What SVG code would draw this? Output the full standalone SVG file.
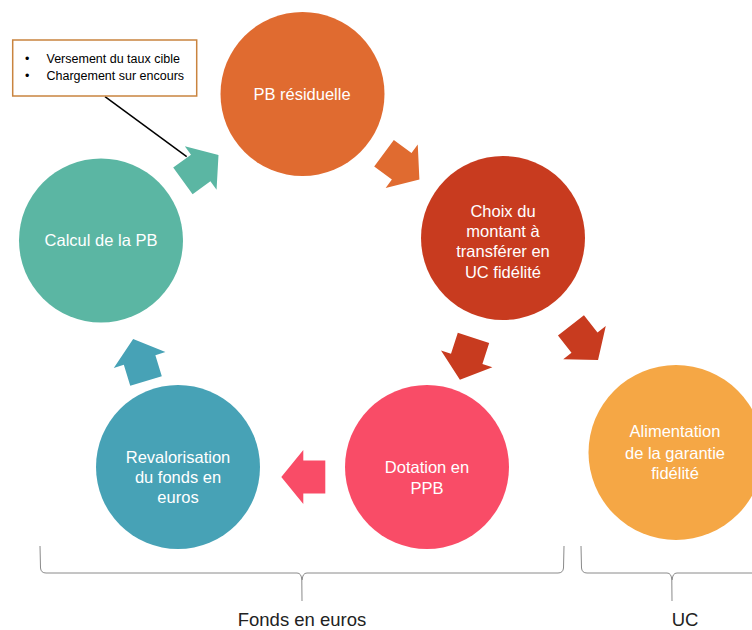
<svg xmlns="http://www.w3.org/2000/svg" xmlns:xlink="http://www.w3.org/1999/xlink" width="752" height="630" viewBox="0 0 752 630">
<defs>
<style>
.lbl{font-family:"Liberation Sans",Arial,sans-serif;font-size:16.5px;fill:#ffffff;text-anchor:middle}
.note{font-family:"Liberation Sans",Arial,sans-serif;font-size:12.5px;fill:#000000}
.cap{font-family:"Liberation Sans",Arial,sans-serif;font-size:18.5px;fill:#222222;text-anchor:middle}
.brace{fill:none;stroke:#8a8a8a;stroke-width:1}
</style>
<polygon id="arr" points="-22,-16.5 0,-16.5 0,-27 22,0 0,27 0,16.5 -22,16.5"/>
</defs>
<rect width="752" height="630" fill="#ffffff"/>

<g id="connectors">
<use xlink:href="#arr" href="#arr" fill="#5BB6A3" transform="translate(200.7,168) rotate(-36)"/>
<use xlink:href="#arr" href="#arr" fill="#E06B30" transform="translate(401.7,166.3) rotate(36.5)"/>
<use xlink:href="#arr" href="#arr" fill="#C83B1F" transform="translate(584.5,342.7) rotate(52)"/>
<use xlink:href="#arr" href="#arr" fill="#C83B1F" transform="translate(466.7,358.8) rotate(108)"/>
<use xlink:href="#arr" href="#arr" fill="#F94C67" transform="translate(303.3,477) rotate(180)"/>
<use xlink:href="#arr" href="#arr" fill="#47A2B6" transform="translate(139.6,360) rotate(-107)"/>
<line x1="105" y1="96.7" x2="186.7" y2="156.7" stroke="#000000" stroke-width="1.5"/>
</g>

<g id="pb-residuelle">
<circle cx="302.5" cy="94" r="82" fill="#E06B30"/>
<text class="lbl" x="302" y="100">PB résiduelle</text>
</g>

<g id="choix-montant">
<circle cx="503" cy="238" r="82" fill="#C83B1F"/>
<text class="lbl" x="503" y="217">Choix du</text>
<text class="lbl" x="503" y="236.5">montant à</text>
<text class="lbl" x="503" y="256.5">transférer en</text>
<text class="lbl" x="503" y="277.5">UC fidélité</text>
</g>

<g id="alimentation">
<circle cx="676" cy="452.5" r="87.5" fill="#F5A745"/>
<text class="lbl" x="675" y="437">Alimentation</text>
<text class="lbl" x="675" y="458.5">de la garantie</text>
<text class="lbl" x="675" y="479">fidélité</text>
</g>

<g id="dotation">
<circle cx="427" cy="467" r="82" fill="#F94C67"/>
<text class="lbl" x="427" y="473">Dotation en</text>
<text class="lbl" x="427" y="494">PPB</text>
</g>

<g id="revalorisation">
<circle cx="178" cy="467" r="82" fill="#47A2B6"/>
<text class="lbl" x="178" y="463">Revalorisation</text>
<text class="lbl" x="178" y="483">du fonds en</text>
<text class="lbl" x="178" y="503">euros</text>
</g>

<g id="calcul-pb">
<circle cx="101" cy="240.5" r="82" fill="#5BB6A3"/>
<text class="lbl" x="101" y="246">Calcul de la PB</text>
</g>

<g id="callout">
<rect x="12.7" y="40" width="184" height="56" fill="#ffffff" stroke="#C9843F" stroke-width="1.5"/>
<text class="note" x="25" y="63">•</text>
<text class="note" x="46.5" y="63">Versement du taux cible</text>
<text class="note" x="25" y="80">•</text>
<text class="note" x="46.5" y="80">Chargement sur encours</text>
</g>

<g id="brace-euros">
<path class="brace" d="M40,546 L40.5,568 Q41,573 46,573 L297,573 Q301.5,573 301.8,580 L302,601 M564,546 L563.5,568 Q563,573 558,573 L307,573 Q302.5,573 302.2,580"/>
<text class="cap" x="302" y="626">Fonds en euros</text>
</g>

<g id="brace-uc">
<path class="brace" d="M581,546 L581.5,568 Q582,573 587,573 L667,573 Q671.5,573 671.8,580 L672,601 M752,573 L677,573 Q672.5,573 672.2,580"/>
<text class="cap" x="685" y="626">UC</text>
</g>
</svg>
